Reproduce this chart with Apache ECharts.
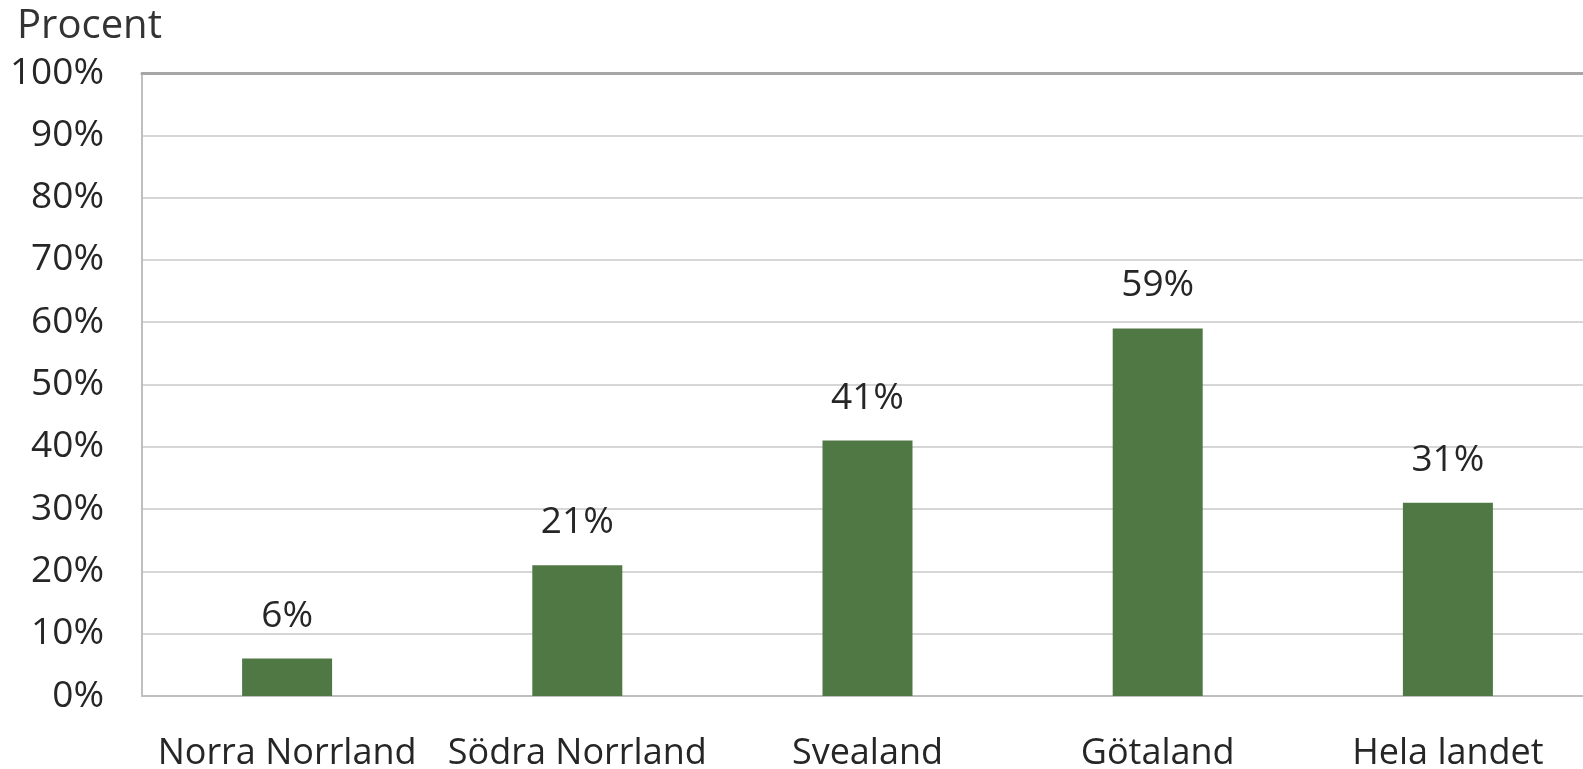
<!DOCTYPE html>
<html><head><meta charset="utf-8">
<script src="https://cdn.jsdelivr.net/npm/echarts@6/dist/echarts.min.js"></script>
<style>html,body{margin:0;padding:0;background:#fff}#c{width:1583px;height:769px}</style>
</head><body><div id="c"></div>
<script>
const categories = ['Norra Norrland', 'Södra Norrland', 'Svealand', 'Götaland', 'Hela landet'];
const values = [6, 21, 41, 59, 31];
const yTicks = [0, 10, 20, 30, 40, 50, 60, 70, 80, 90, 100];
const yTitle = 'Procent';

const font = 'Open Sans';
const chart = echarts.init(document.getElementById('c'));
chart.setOption({
  animation: false,
  grid: { left: 142, right: -10, top: 73, bottom: 73, outerBoundsMode: 'none' },
  title: { text: yTitle, left: 12, top: 2, textStyle: { fontFamily: font, fontSize: 40, fontWeight: 'normal', color: '#333' } },
  xAxis: [{
    type: 'category', data: categories,
    axisLine: { show: true, lineStyle: { color: '#bfbfbf', width: 2 } },
    axisTick: { show: false },
    axisLabel: { interval: 0, hideOverlap: false, fontFamily: font, fontSize: 36, color: '#262626', margin: 40 }
  }, {
    type: 'category', data: categories, position: 'top',
    axisLine: { show: true, lineStyle: { color: '#a6a6a6', width: 3 } },
    axisTick: { show: false }, axisLabel: { show: false }
  }],
  yAxis: {
    type: 'value', min: yTicks[0], max: yTicks[yTicks.length - 1], interval: 10,
    axisLine: { show: true, lineStyle: { color: '#bfbfbf', width: 2 } },
    axisTick: { show: false },
    splitLine: { lineStyle: { color: '#d6d6d6', width: 2 } },
    axisLabel: { fontFamily: font, fontSize: 37, color: '#262626', margin: 38, formatter: v => v + '%' }
  },
  series: [{
    type: 'bar', data: values, barWidth: 90, xAxisIndex: 0,
    itemStyle: { color: '#507845' },
    label: { show: true, position: 'top', distance: 24, fontFamily: font, fontSize: 37, color: '#262626', formatter: p => p.value + '%' }
  }]
});
</script></body></html>
